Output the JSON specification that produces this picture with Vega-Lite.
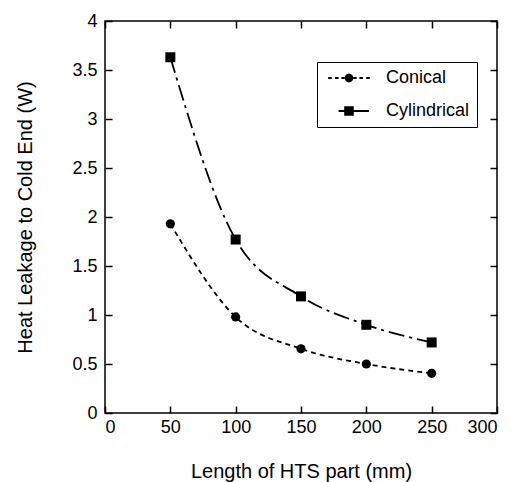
{
  "$schema": "https://vega.github.io/schema/vega-lite/v6.json",
  "width": 392,
  "height": 392,
  "autosize": {"type": "none"},
  "padding": {"left": 105, "top": 21, "right": 32, "bottom": 69},
  "config": {
    "font": "Liberation Sans",
    "view": {"stroke": "black", "strokeWidth": 1.5},
    "axis": {
      "grid": false,
      "domain": false,
      "tickColor": "black",
      "tickWidth": 1.5,
      "tickSize": -7,
      "labelColor": "black",
      "labelFontSize": 18,
      "titleColor": "black",
      "titleFontSize": 20,
      "titleFontWeight": "normal"
    }
  },
  "data": {
    "values": [
      {"series": "Conical", "length": 50, "heat": 1.93},
      {"series": "Conical", "length": 100, "heat": 0.98},
      {"series": "Conical", "length": 150, "heat": 0.655},
      {"series": "Conical", "length": 200, "heat": 0.50},
      {"series": "Conical", "length": 250, "heat": 0.405},
      {"series": "Cylindrical", "length": 50, "heat": 3.63},
      {"series": "Cylindrical", "length": 100, "heat": 1.77},
      {"series": "Cylindrical", "length": 150, "heat": 1.19},
      {"series": "Cylindrical", "length": 200, "heat": 0.90},
      {"series": "Cylindrical", "length": 250, "heat": 0.72}
    ]
  },
  "layer": [
    {
      "transform": [{"filter": "datum.series === 'Conical'"}],
      "mark": {"type": "line", "interpolate": "monotone", "color": "black", "strokeWidth": 1.8, "strokeDash": [5, 4]},
      "encoding": {
        "x": {
          "field": "length", "type": "quantitative",
          "scale": {"domain": [0, 300], "nice": false},
          "axis": {"orient": "bottom", "values": [0, 50, 100, 150, 200, 250, 300], "labelPadding": 12, "title": "Length of HTS part (mm)", "titlePadding": 25}
        },
        "y": {
          "field": "heat", "type": "quantitative",
          "scale": {"domain": [0, 4], "nice": false},
          "axis": {"orient": "left", "values": [0, 0.5, 1, 1.5, 2, 2.5, 3, 3.5, 4], "format": "~g", "labelPadding": 15, "title": "Heat Leakage to Cold End (W)", "titlePadding": 36}
        }
      }
    },
    {
      "transform": [{"filter": "datum.series === 'Cylindrical'"}],
      "mark": {"type": "line", "interpolate": "monotone", "color": "black", "strokeWidth": 1.8, "strokeDash": [16, 5, 3, 5]},
      "encoding": {
        "x": {"field": "length", "type": "quantitative", "axis": null},
        "y": {"field": "heat", "type": "quantitative", "axis": null}
      }
    },
    {
      "transform": [{"filter": "datum.series === 'Conical'"}],
      "mark": {"type": "point", "shape": "circle", "filled": true, "color": "black", "opacity": 1, "size": 85},
      "encoding": {
        "x": {"field": "length", "type": "quantitative", "axis": null},
        "y": {"field": "heat", "type": "quantitative", "axis": null}
      }
    },
    {
      "transform": [{"filter": "datum.series === 'Cylindrical'"}],
      "mark": {"type": "point", "shape": "square", "filled": true, "color": "black", "opacity": 1, "size": 100},
      "encoding": {
        "x": {"field": "length", "type": "quantitative", "axis": null},
        "y": {"field": "heat", "type": "quantitative", "axis": null}
      }
    },
    {
      "mark": {"type": "point", "filled": true, "color": "black", "size": 0},
      "encoding": {
        "x": {
          "field": "length", "type": "quantitative",
          "axis": {"orient": "top", "values": [0, 50, 100, 150, 200, 250, 300], "labels": false, "title": null}
        },
        "y": {
          "field": "heat", "type": "quantitative",
          "axis": {"orient": "right", "values": [0, 0.5, 1, 1.5, 2, 2.5, 3, 3.5, 4], "labels": false, "title": null}
        },
        "shape": {
          "field": "series", "type": "nominal",
          "scale": {
            "domain": ["Conical", "Cylindrical"],
            "range": [
              "M-5.2,-0.25L-4.3,-0.25L-4.3,0.25L-5.2,0.25Z M-3.5,-0.25L-2.6,-0.25L-2.6,0.25L-3.5,0.25Z M-1.9,-0.25L-1.1,-0.25L-1.1,0.25L-1.9,0.25Z M1.1,-0.25L1.9,-0.25L1.9,0.25L1.1,0.25Z M2.6,-0.25L3.5,-0.25L3.5,0.25L2.6,0.25Z M4.3,-0.25L5.2,-0.25L5.2,0.25L4.3,0.25Z M1.1,0L0.95,0.55L0.55,0.95L0,1.1L-0.55,0.95L-0.95,0.55L-1.1,0L-0.95,-0.55L-0.55,-0.95L0,-1.1L0.55,-0.95L0.95,-0.55Z",
              "M-2.6,-0.25L5,-0.25L5,0.25L-2.6,0.25Z M-1.2,-1.2L1.2,-1.2L1.2,1.2L-1.2,1.2Z"
            ]
          },
          "legend": {
            "title": null,
            "orient": "none",
            "legendX": 212,
            "legendY": 41,
            "padding": 7,
            "strokeColor": "black",
            "fillColor": "white",
            "labelFontSize": 18,
            "labelColor": "black",
            "labelOffset": 28,
            "symbolOffset": 16,
            "rowPadding": 15,
            "symbolSize": 64,
            "symbolFillColor": "black",
            "symbolOpacity": 1
          }
        }
      }
    }
  ],
  "resolve": {"axis": {"x": "independent", "y": "independent"}}
}
